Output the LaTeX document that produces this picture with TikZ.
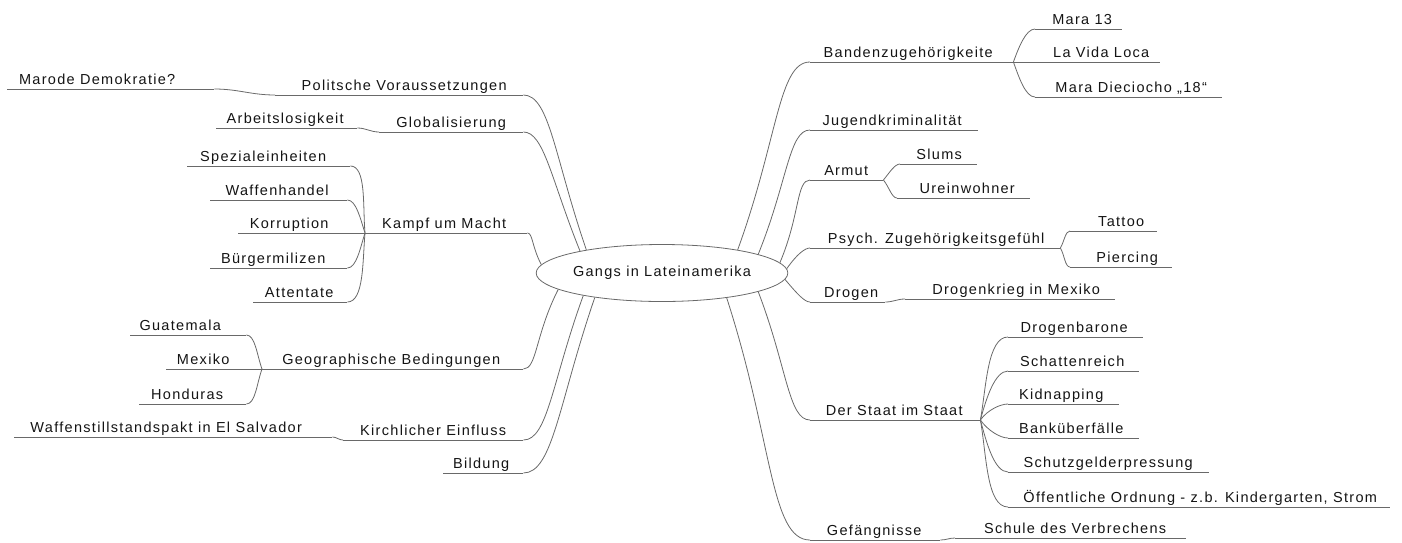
\documentclass[tikz,border=0pt]{standalone}
\usepackage{fontspec}
\setmainfont{Liberation Sans}[LetterSpace=9]
\usetikzlibrary{shapes.geometric}
\definecolor{ln}{RGB}{105,105,105}
\definecolor{tx}{RGB}{20,20,20}
\newcommand\ubx[3]{\makebox[#1pt][l]{\makebox[#2pt][c]{#3}}}
\begin{document}
\begin{tikzpicture}[x=1pt,y=1pt,
  lbl/.style={inner sep=0pt, text height=11pt, text depth=4.5pt, anchor=south west, text=tx, font=\fontsize{14.5}{16}\selectfont},
  br/.style={draw=ln, line width=0.8pt},
  main/.style={br, out looseness=1.5, in looseness=0.4},
  sub/.style={br, out looseness=1, in looseness=0.6}]
\useasboundingbox (0,0) rectangle (1402,-542);
% centre
\node[br, ellipse, minimum width=220pt, minimum height=57pt, inner sep=0pt, text=tx, font=\fontsize{14.5}{16}\selectfont] (c) at (662,-273) {Gangs in Lateinamerika};
% left side
\node[lbl] (mar) at (7,-89) {\ubx{207}{180}{Marode Demokratie?}};
\node[lbl] (pv) at (275,-95) {\ubx{248}{258}{Politsche Voraussetzungen}};
\node[lbl] (arb) at (216,-128) {\ubx{141}{138}{Arbeitslosigkeit}};
\node[lbl] (glo) at (379,-132) {\ubx{144}{144}{Globalisierung}};
\node[lbl] (spz) at (187,-166) {\ubx{163}{152}{Spezialeinheiten}};
\node[lbl] (waf) at (210,-200) {\ubx{137}{134}{Waffenhandel}};
\node[lbl] (kor) at (238,-233) {\ubx{127}{102}{Korruption}};
\node[lbl] (kam) at (365,-233) {\ubx{162}{158}{Kampf um Macht}};
\node[lbl] (bue) at (210,-268) {\ubx{137}{126}{Bürgermilizen}};
\node[lbl] (att) at (253,-302) {\ubx{94}{92}{Attentate}};
\node[lbl] (gua) at (130,-335) {\ubx{116}{100}{Guatemala}};
\node[lbl] (mex) at (166,-369) {\ubx{96}{74}{Mexiko}};
\node[lbl] (hon) at (139,-404) {\ubx{107}{96}{Honduras}};
\node[lbl] (geo) at (262,-369) {\ubx{261}{258}{Geographische Bedingungen}};
\node[lbl] (wst) at (14,-437) {\ubx{318}{304}{Waffenstillstandspakt in El Salvador}};
\node[lbl] (kir) at (343,-440) {\ubx{180}{180}{Kirchlicher Einfluss}};
\node[lbl] (bil) at (443,-473) {\ubx{80}{76}{Bildung}};
% right side
\node[lbl] (ban) at (810,-62) {\ubx{203}{196}{Bandenzugehörigkeite}};
\node[lbl] (m13) at (1035,-29) {\ubx{87}{94}{Mara 13}};
\node[lbl] (lvl) at (1013,-62) {\ubx{147}{176}{La Vida Loca}};
\node[lbl] (m18) at (1035,-97) {\ubx{187}{192}{Mara Dieciocho „18“}};
\node[lbl] (jug) at (810,-130) {\ubx{168}{164}{Jugendkriminalität}};
\node[lbl] (arm) at (810,-180) {\ubx{73}{72}{Armut}};
\node[lbl] (slu) at (900,-164) {\ubx{77}{78}{Slums}};
\node[lbl] (ure) at (897,-198) {\ubx{133}{140}{Ureinwohner}};
\node[lbl] (psy) at (810,-248) {\ubx{250}{252}{Psych. Zugehörigkeitsgefühl}};
\node[lbl] (tat) at (1070,-231) {\ubx{87}{102}{Tattoo}};
\node[lbl] (pie) at (1070,-267) {\ubx{102}{114}{Piercing}};
\node[lbl] (dro) at (810,-302) {\ubx{75}{82}{Drogen}};
\node[lbl] (dkr) at (905,-299) {\ubx{210}{222}{Drogenkrieg in Mexiko}};
\node[lbl] (sta) at (810,-420) {\ubx{170}{168}{Der Staat im Staat}};
\node[lbl] (dba) at (1008,-337) {\ubx{135}{132}{Drogenbarone}};
\node[lbl] (sch) at (1008,-371) {\ubx{131}{128}{Schattenreich}};
\node[lbl] (kid) at (1008,-404) {\ubx{111}{106}{Kidnapping}};
\node[lbl] (bkf) at (1008,-438) {\ubx{131}{126}{Banküberfälle}};
\node[lbl] (szg) at (1008,-472) {\ubx{201}{200}{Schutzgelderpressung}};
\node[lbl] (oeo) at (1008,-507) {\ubx{382}{384}{Öffentliche Ordnung - z.b. Kindergarten, Strom}};
\node[lbl] (gef) at (810,-540) {\ubx{130}{128}{Gefängnisse}};
\node[lbl] (sdv) at (955,-538) {\ubx{231}{240}{Schule des Verbrechens}};
% underlines
\foreach \n in {mar,pv,arb,glo,spz,waf,kor,kam,bue,att,gua,mex,hon,geo,wst,kir,bil,
  ban,m13,lvl,m18,jug,arm,slu,ure,psy,tat,pie,dro,dkr,sta,dba,sch,kid,bkf,szg,oeo,gef,sdv}
  \draw[br] (\n.south west) -- (\n.south east);
% main branches left
\draw[main] (c.163) to[out=109,in=0] (pv.south east);
\draw[main] (c.165) to[out=112,in=0] (glo.south east);
\draw[main] (c.176.5) to[out=118,in=0] (kam.south east);
\draw[main] (c.189.6) to[out=243,in=0] (geo.south east);
\draw[main] (c.196.6) to[out=250,in=0] (kir.south east);
\draw[main] (c.200) to[out=251,in=0] (bil.south east);
% main branches right
\draw[main] (c.17.4) to[out=70,in=180] (ban.south west);
\draw[main] (c.11) to[out=68,in=180] (jug.south west);
\draw[main] (c.5.5) to[out=67,in=180] (arm.south west);
\draw[main] (c.2) to[out=55,in=180] (psy.south west);
\draw[main] (c.-3) to[out=-50,in=180] (dro.south west);
\draw[main] (c.-11) to[out=-69,in=180] (sta.south west);
\draw[main] (c.-21.7) to[out=-72,in=180] (gef.south west);
% continuation links
\draw[br] (pv.south west) to[out=180,in=0] (mar.south east);
\draw[br] (glo.south west) to[out=180,in=0] (arb.south east);
\draw[br] (kir.south west) to[out=180,in=0] (wst.south east);
\draw[br] (dro.south east) to[out=0,in=180] (dkr.south west);
\draw[br] (gef.south east) to[out=0,in=180] (sdv.south west);
% sub branches left
\draw[sub] (kam.south west) to[out=95,in=0] (spz.south east);
\draw[sub] (kam.south west) to[out=108,in=0] (waf.south east);
\draw[sub] (kam.south west) to[out=252,in=0] (bue.south east);
\draw[sub] (kam.south west) to[out=265,in=0] (att.south east);
\draw[sub] (geo.south west) to[out=110,in=0] (gua.south east);
\draw[sub] (geo.south west) to[out=250,in=0] (hon.south east);
% sub branches right
\draw[sub] (ban.south east) to[out=70,in=180] (m13.south west);
\draw[sub] (ban.south east) to[out=-70,in=180] (m18.south west);
\draw[sub] (arm.south east) to[out=50,in=180] (slu.south west);
\draw[sub] (arm.south east) to[out=-50,in=180] (ure.south west);
\draw[sub] (psy.south east) to[out=60,in=180] (tat.south west);
\draw[sub] (psy.south east) to[out=-60,in=180] (pie.south west);
\draw[sub] (sta.south east) to[out=80,in=180] (dba.south west);
\draw[sub] (sta.south east) to[out=75,in=180] (sch.south west);
\draw[sub] (sta.south east) to[out=55,in=180] (kid.south west);
\draw[sub] (sta.south east) to[out=-55,in=180] (bkf.south west);
\draw[sub] (sta.south east) to[out=-75,in=180] (szg.south west);
\draw[sub] (sta.south east) to[out=-80,in=180] (oeo.south west);
\end{tikzpicture}
\end{document}
